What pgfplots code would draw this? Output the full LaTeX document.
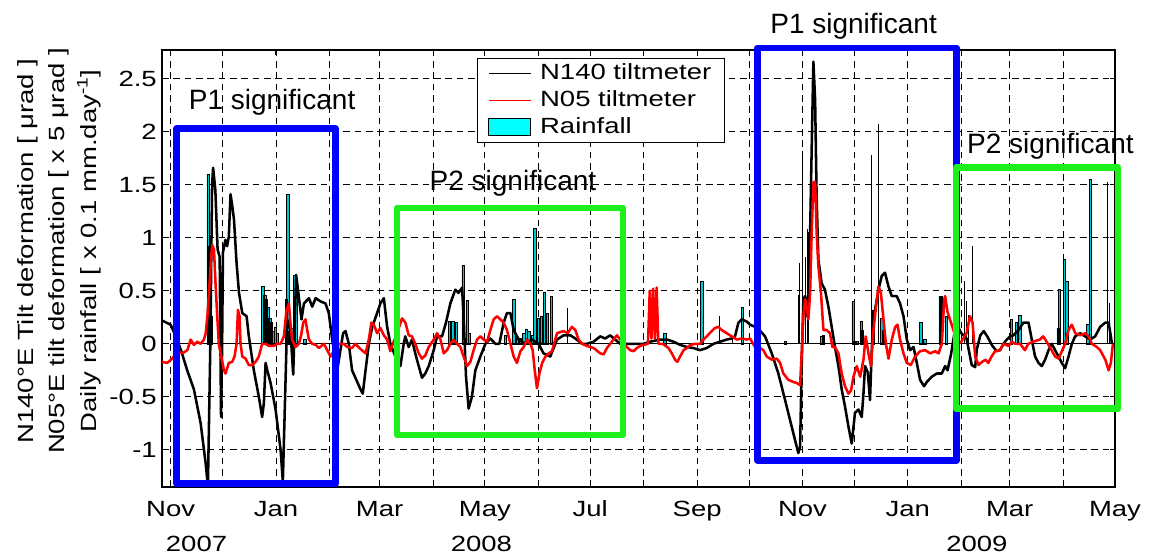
\documentclass[border=0pt]{standalone}
\usepackage{fontspec}
\setmainfont{Liberation Sans}[FakeStretch=1.25]
\newfontfamily\annfont{Liberation Sans}
\usepackage{pgfplots}
\pgfplotsset{compat=1.18}
\definecolor{pone}{RGB}{0,0,255}
\definecolor{ptwo}{RGB}{30,240,30}
\definecolor{rainc}{RGB}{0,255,255}
\definecolor{rainbar}{RGB}{0,200,210}
\newcommand{\tickfont}{\fontsize{16.5}{20}\selectfont}
\newcommand{\annsize}{\annfont\fontsize{21}{25}\selectfont}

\begin{document}
\begin{tikzpicture}
\useasboundingbox (-121.5pt,-51.75pt) rectangle (740.25pt,365.25pt);
\begin{axis}[
    scale only axis,
    width=714.75pt, height=327.75pt,
    xmin=-5, xmax=547, ymin=-1.35, ymax=2.77,
    clip=false,
    axis line style={line width=0.9pt},
    xtick={0,30,61,92,121,152,182,213,243,274,305,335,366,396,427,458,486,517,547},
    xticklabels={Nov,,Jan,,Mar,,May,,Jul,,Sep,,Nov,,Jan,,Mar,,May},
    ytick={-1,-0.5,0,0.5,1,1.5,2,2.5},
    yticklabels={-1,-0.5,0,0.5,1,1.5,2,2.5},
    grid=major,
    grid style={black, line width=0.6pt, dash pattern=on 5pt off 3.5pt},
    tick align=inside,
    major tick length=4pt,
    tick style={black, line width=0.7pt},
    tick label style={font=\tickfont},
    xticklabel style={anchor=base, yshift=-22.5pt, inner sep=0pt},
    yticklabel style={inner sep=0pt, xshift=-3.75pt},
    ylabel={N140°E Tilt deformation [ μrad ]\\N05°E tilt deformation [ x 5 μrad ]\\Daily rainfall [ x 0.1 mm.day\textsuperscript{-1}]},
    ylabel style={align=center, font=\fontsize{16.5}{23.5}\selectfont,
        at={(axis description cs:-0.108,0.54)}, anchor=center},
    legend style={at={(0.3305,0.982)}, anchor=north west, draw=black,
        line width=0.75pt, fill=white, font=\tickfont,
        inner xsep=8pt, inner ysep=1pt, row sep=0pt,
        nodes={inner sep=2pt, text height=12.5pt, text depth=3.75pt},
        /tikz/every odd column/.append style={column sep=4.5pt},
        legend cell align=left},
]

% rainfall, cyan bars
\addplot[ybar, bar width=1.3, fill=rainbar, draw=black, line width=0.45pt, forget plot] coordinates {
 (21.6,1.60) (22.7,0.92) (23.7,0.26)
 (53.4,0.54) (54.6,0.46) (55.5,0.42) (56.5,0.34) (57.5,0.24) (58.5,0.2) (59.4,0.12) (60.8,0.16) (61.7,0.1)
 (66.9,0.42) (67.9,1.41) (69,0.12) (70.4,0.15) (71.7,0.65) (72.7,0.55) (77.7,0.04)
 (161.5,0.21) (163.4,0.21) (165.3,0.2) (169.4,0.74) (171.7,0.41) (173.1,0.1)
 (193.9,0.08) (198.7,0.42) (200.6,0.05) (202.6,0.05) (204.5,0.1) (205.8,0.14) (207.4,0.12) (209.3,0.08)
 (210.9,1.09) (213.1,0.24) (214.5,0.26) (216.4,0.49) (218.3,0.29) (220.5,0.45)
 (286.2,0.1) (307.7,0.59) (331.2,0.34)
 (356,0.02) (377.1,0.07) (378,0.08) (395.2,0.40) (396.3,0.02) (397.5,0.02) (399.9,0.21) (400.8,0.13)
 (407.1,0.32) (411.9,0.24) (412.8,0.13)
 (434.5,0.2) (436.8,0.04) (445.6,0.45) (446.6,0.45) (449.4,0.26)
 (487.1,0.23) (489.9,0.2) (491.8,0.27) (514,0.15) (514.9,0.51) (517.8,0.80) (519.1,0.59) (531.2,0.18) (532.7,1.55)
};
% rainfall, very narrow bars
\addplot[ycomb, black, line width=0.6pt, forget plot] coordinates {
 (229.9,0.34) (318,0.26) (325.6,0.06)
 (363.6,0.46) (364.2,0.76) (366,1.82) (367.8,0.82) (368.7,1.08) (369.5,1.05)
 (406.1,1.78) (410,2.07)
 (457,0.3) (459.5,0.59) (460.7,0.4) (462,0.27) (464.3,0.92)
 (542.5,1.53) (543.7,0.38)
};
\addplot[black, line width=0.75pt, forget plot] coordinates {(0,0) (546,0)};

% N140 tiltmeter
\addplot[black, line width=1.9pt, line join=round, forget plot] coordinates {
 (-5,0.22) (0,0.18) (3,0.07) (6,-0.06) (9.6,-0.25) (13.5,-0.43) (17.4,-0.75) (20.3,-1.13) (21.6,-1.34)
 (23,0) (24,1.5) (24.6,1.66) (25.9,1.45) (27.2,0.89) (28.4,0.82) (29.2,-0.69) (29.8,-0.06) (30.3,0.86)
 (31.7,0.98) (32.7,0.92) (33.7,1.01) (34.7,1.41) (35.7,1.3) (36.7,1.17) (38.2,0.76) (39.6,0.48)
 (41.5,0.29) (44,0.26) (45.3,0.07) (48.2,-0.25) (51.1,-0.5) (53,-0.69) (54,-0.56) (55,-0.18) (56,-0.25)
 (57.9,-0.37) (60.8,-0.62) (63.7,-1.0) (65,-1.30) (67.5,0.23) (69.4,0.13) (71,-0.29) (72.7,0.65)
 (74.2,0.45) (75.8,0.23) (77.2,0.38) (80.1,0.43) (82,0.35) (84,0.43) (86.8,0.40) (89.7,0.38) (91.6,0.29)
 (93.6,0.04) (96.5,-0.25) (99.9,0.1) (101.3,0.12) (103.2,0) (105.1,-0.25) (107,-0.32) (110,-0.43)
 (111.3,-0.47) (112.9,-0.25) (114.8,0) (116.8,0.16) (119.6,0.29) (121.5,0.38) (123.5,0.43) (125.4,0.16)
 (127.3,0) (130.2,-0.12) (133.1,-0.21) (135,0) (135.9,0.07) (137.9,-0.03) (139.8,0.04) (141.7,-0.09)
 (143.7,-0.21) (145.6,-0.32) (147.5,-0.28) (149.5,-0.21) (152.4,-0.06) (154.3,0.07) (157.2,0.07)
 (159.5,0.2) (162,0.38) (164.9,0.51) (166.8,0.48) (168.8,0.53) (169.7,0.26) (171.1,-0.31) (172.6,-0.61)
 (174.5,-0.5) (176.5,-0.25) (179.4,-0.12) (182.3,0) (185.2,0.05) (188.1,0) (190.4,0) (192.9,0.2)
 (194.8,0.29) (196.8,0.29) (198.7,0.13) (201.6,0.04) (205.4,0) (209.3,0.04) (213.1,0) (216,-0.09)
 (219.9,-0.12) (223.8,0.04) (227.6,0.08) (231.5,0.08) (234.4,0.05) (238.3,0) (241.1,0) (245,0.02)
 (248.8,0.07) (251.7,0.05) (254.6,0.08) (257.5,0.04) (260.4,0) (263.3,0) (268.1,0) (273.9,0)
 (277.8,0.02) (283.6,0.04) (287.4,0.04) (291.3,0.02) (295.1,-0.01) (299,-0.03) (302.8,-0.04)
 (306.7,-0.06) (310.5,-0.04) (314.4,0) (318.3,0.02) (322.1,0.04) (325,0.05) (326.9,0.07) (328.9,0.2)
 (330.8,0.23) (333.7,0.21) (335.6,0.18) (340,0.15) (344.3,0.07) (348.2,-0.09) (352,-0.28) (355.9,-0.53)
 (358.8,-0.72) (361.7,-0.91) (363.6,-1.03) (364.6,-0.97) (365.5,-0.21) (366.5,0.42) (367.5,0.45)
 (368.4,0.26) (369.4,0.48) (370.4,1.04) (371.3,1.83) (372.3,2.66) (373.3,2.3) (374.2,1.36) (375.2,0.79)
 (377.1,0.57) (379,0.51) (381,0.35) (382.9,0.16) (384.8,-0.03) (386.8,-0.21) (388.7,-0.43) (390.6,-0.59)
 (392.6,-0.78) (394.5,-0.94) (396.4,-0.65) (398.4,-0.62) (400.3,-0.69) (401.3,-0.47) (402.2,-0.21)
 (403.8,-0.27) (405.1,-0.53) (406.1,-0.06) (407.1,0.26) (408,0.32) (410,0.51) (411.9,0.64) (413.8,0.67)
 (415.8,0.54) (417.7,0.45) (420.6,0.45) (422.5,0.38) (424.5,0.26) (426.4,0.04) (428.3,-0.06)
 (430.3,-0.03) (432.2,-0.18) (434.1,-0.34) (436.4,-0.4) (438,-0.36) (440.9,-0.31) (443.8,-0.28)
 (446.7,-0.28) (448.6,-0.21) (450,-0.25) (452,-0.1) (454,0.1) (456,0.16) (458,0.1) (461,0.05) (464,-0.2)
 (466,-0.22) (467,-0.05) (469,0.08) (471,0.12) (473,0.07) (476,-0.02) (478.5,-0.07) (480.4,-0.06)
 (482.4,0) (484.3,0.04) (486.2,0.07) (488.2,0.08) (491.1,0.13) (494,0.2) (496.9,0.2) (498.8,0.04)
 (500.7,-0.12) (502.7,-0.18) (504.6,-0.21) (506.5,-0.15) (508.5,-0.06) (510.4,0) (512.3,-0.06)
 (514.3,-0.12) (516.2,-0.18) (518.1,-0.23) (520.1,-0.12) (522,0) (523.9,0.07) (526.8,0.1) (529.7,0.07)
 (532.6,0.04) (535.5,0.07) (538.4,0.16) (541.4,0.2) (543.3,0.2) (544.6,0.07) (545.2,0)
};

% N05 tiltmeter
\addplot[red, line width=1.9pt, line join=round, forget plot] coordinates {
 (-5,-0.17) (-2,-0.18) (0.9,-0.14) (3.9,-0.07) (6.8,-0.09) (9.7,-0.06) (11.6,0.04) (13.5,-0.01)
 (15.4,0.02) (17.4,0) (19.3,0.04) (20.3,0.1) (21.3,0.26) (22.2,0.48) (23.2,0.75) (24.1,0.93) (25.1,0.89)
 (26,0.57) (27,0.26) (27.9,0) (29.3,-0.12) (30.9,-0.25) (31.8,-0.28) (33.7,-0.18) (35.7,-0.17) (37,-0.12)
 (38.2,0) (39,0.32) (39.9,0.26) (40.5,0) (41.5,-0.12) (43.4,-0.14) (45.3,-0.2) (47.3,-0.2) (49.2,-0.17)
 (51.1,-0.12) (53,0) (55,0) (56.9,-0.02) (59.8,-0.02) (61.7,0) (63.7,0) (65.6,0.07) (67.1,0.32)
 (68.5,0.38) (69.4,0.2) (70.4,0.04) (72.3,-0.03) (74.3,0) (75.6,0.08) (76.8,0.2) (78.1,0.23) (79.1,0.13)
 (80.1,0.04) (82,0) (84,-0.01) (85.9,-0.04) (88.8,0) (90.7,-0.06) (92.6,-0.12) (94.5,-0.07) (96.5,0)
 (98.4,0) (100.3,0) (102.2,-0.03) (105.1,-0.04) (107,0) (110,-0.05) (112.9,-0.09) (114.8,0.04)
 (116.3,0.2) (117.7,0.18) (119.6,0.1) (121.5,0.15) (123.5,0.08) (125.4,0.04) (127.3,-0.07) (128.7,0)
 (131.2,0.1) (134,0.24) (136,0.2) (137.9,0.08) (139.8,0.07) (141.7,0) (143.7,-0.09) (145.6,-0.14)
 (147.5,-0.11) (149.5,-0.03) (152.4,0.04) (154.3,0.1) (156.3,0.04) (158.2,-0.09) (160.1,-0.06) (162,0)
 (164,0.04) (165.9,0) (167.8,-0.03) (169.7,-0.12) (171.7,-0.21) (173.6,-0.17) (175.5,-0.06) (177.5,0.04)
 (179.4,0.07) (181.3,0.04) (183.3,0.02) (185.2,0.13) (187.1,0.23) (189.1,0.26) (191,0.23) (192.9,0.2)
 (194.8,0.13) (196.8,0) (198.7,-0.12) (200.6,-0.18) (202.6,-0.07) (204.5,-0.03) (206.4,0.04) (208.4,0)
 (209.7,-0.06) (210.9,-0.25) (212.2,-0.42) (213.6,-0.28) (215.2,-0.18) (217.1,-0.12) (219,-0.09)
 (220.9,-0.07) (223.8,0.1) (227.6,0.12) (230,0.1) (232.4,0.16) (234.4,0.13) (236.3,0.04) (238.3,0)
 (241.1,-0.02) (245,-0.04) (248.9,-0.09) (250.8,-0.1) (252.7,-0.04) (254.6,0) (256.5,0.04) (258.5,0.08)
 (260.4,0.04) (262.3,0) (264.2,-0.03) (266.2,-0.06) (268.1,-0.07) (270,-0.04) (272,-0.02) (274,-0.01)
 (276.5,0) (277.5,0.5) (278.5,0.05) (279.5,0.52) (280.5,0.05) (281.5,0.53) (282.5,0) (285,0)
 (288.4,-0.04) (290.3,-0.09) (292.2,-0.15) (293.5,-0.17) (295.1,-0.12) (297.1,-0.06) (299,-0.04)
 (301,-0.01) (304,0) (306.7,0) (308.6,0.04) (310.5,0.07) (313.4,0.12) (315.4,0.15) (317.3,0.16)
 (319.2,0.13) (322.1,0.1) (325,0.07) (328,0.04) (330.8,0.05) (333.7,0.04) (335.6,0.05) (338.5,-0.03)
 (341.4,-0.04) (343.3,-0.06) (345.3,-0.12) (348.2,-0.15) (351.1,-0.14) (353,-0.18) (354.9,-0.28)
 (357.8,-0.34) (360.7,-0.36) (362.7,-0.37) (364.6,-0.39) (365.5,-0.09) (366.5,0.26) (367.5,0.42)
 (368.4,0.35) (369.4,0.23) (370.4,0.48) (371.3,1.04) (372.3,1.52) (373.3,1.53) (374.2,1.04) (375.2,0.73)
 (376.7,0.48) (378.1,0.13) (380,0.13) (381.9,0.1) (383.3,-0.03) (384.8,-0.03) (386.8,-0.09) (388.7,-0.28)
 (390.6,-0.4) (392.6,-0.47) (394.1,-0.44) (395.5,-0.31) (397.4,-0.21) (399.4,-0.31) (401.3,-0.15)
 (402.6,0.07) (404.2,-0.09) (405.7,-0.21) (407.1,0.13) (408.6,0.35) (410,0.54) (411.4,0.48) (412.9,0.23)
 (414.3,0) (415.8,-0.14) (417.7,0.04) (419.7,0.16) (421,0.18) (422.5,0.04) (424.5,-0.09) (426.4,-0.18)
 (428.7,-0.2) (431.2,-0.12) (434.1,-0.07) (437,-0.06) (439.9,-0.09) (442.8,-0.07) (444.8,-0.09)
 (446.7,0) (448.1,0.42) (448.6,0.45) (450,0.3) (452,0.2) (454,0.1) (456,0) (458,0.02) (461,0.1)
 (463,0.26) (464.5,0.2) (466,-0.12) (468,-0.2) (470,-0.17) (472,-0.15) (473.6,-0.18) (475.5,-0.12)
 (477.5,-0.07) (480.4,-0.06) (482.4,0) (485.3,-0.02) (487.2,0.02) (489.1,0) (492,0) (494.8,-0.06)
 (496.8,0) (499.6,0.02) (503.5,0.04) (505.4,0.07) (507.4,0.02) (510.3,-0.06) (512.3,-0.12) (514.3,-0.14)
 (516.2,-0.07) (518.1,0) (520.1,0.13) (522,0.18) (524,0.1) (526.8,0.08) (529.7,0.1) (531.7,0.07)
 (533.6,0) (536.5,-0.03) (538.4,-0.06) (541.4,-0.15) (543.3,-0.25) (544.6,-0.18) (545.8,0)
};

% period boxes
\draw[pone, line width=5pt, line join=round] (axis cs:3.5,-1.32) rectangle (axis cs:95.5,2.03);
\draw[pone, line width=5pt, line join=round] (axis cs:340,-1.10) rectangle (axis cs:455.2,2.79);
\draw[ptwo, line width=5pt, line join=round] (axis cs:131.2,-0.86) rectangle (axis cs:262,1.28);
\draw[ptwo, line width=5pt, line join=round] (axis cs:454.9,-0.61) rectangle (axis cs:548.8,1.66);

\node[font=\annsize, anchor=base west, inner sep=0pt] at (axis cs:10.4,2.21) {P1 significant};
\node[font=\annsize, anchor=base west, inner sep=0pt] at (axis cs:149.9,1.45) {P2 significant};
\node[font=\annsize, anchor=base west, inner sep=0pt] at (axis cs:347.2,2.93) {P1 significant};
\node[font=\annsize, anchor=base west, inner sep=0pt] at (axis cs:461.2,1.79) {P2 significant};

% years under the month labels
\node[font=\tickfont, anchor=base] at (axis cs:15,-1.96) {2007};
\node[font=\tickfont, anchor=base] at (axis cs:180,-1.96) {2008};
\node[font=\tickfont, anchor=base] at (axis cs:467,-1.96) {2009};

\addlegendimage{legend image code/.code={\draw[black, line width=1pt] (5pt,0pt) -- (36.5pt,0pt);}}
\addlegendentry{N140 tiltmeter}
\addlegendimage{legend image code/.code={\draw[red, line width=1pt] (5pt,0pt) -- (36.5pt,0pt);}}
\addlegendentry{N05 tiltmeter}
\addlegendimage{legend image code/.code={\draw[fill=rainc, draw=black, line width=0.6pt] (5pt,-6.5pt) rectangle (36.5pt,6.5pt);}}
\addlegendentry{Rainfall}
\end{axis}
\end{tikzpicture}
\end{document}
